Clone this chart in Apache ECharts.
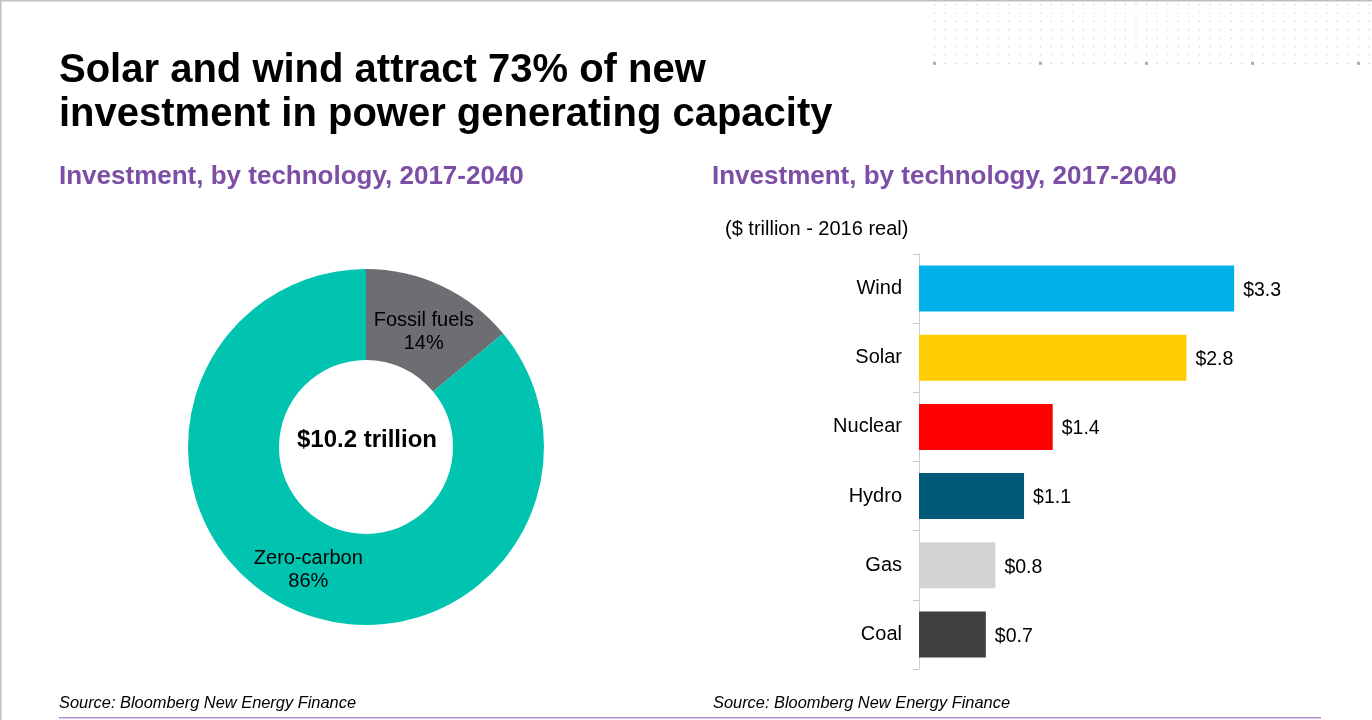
<!DOCTYPE html>
<html>
<head>
<meta charset="utf-8">
<script src="https://cdn.jsdelivr.net/npm/echarts@6/dist/echarts.min.js"></script>
<style>
html,body{margin:0;padding:0;background:#fff;}
#c{width:1372px;height:720px;}
</style>
</head>
<body>
<div id="c"></div>
<script>
// ---- data ----
const donutNames = ['Fossil fuels', 'Zero-carbon'];
const donutShares = [14, 86];
const donutColors = ['#6d6e71', '#00c4b0'];
const donutTotal = '$10.2 trillion';

const barCategories = ['Wind', 'Solar', 'Nuclear', 'Hydro', 'Gas', 'Coal'];
const barValues = [3.3, 2.8, 1.4, 1.1, 0.8, 0.7];
const barColors = ['#00b0e8', '#ffcc00', '#ff0000', '#005a78', '#d3d3d3', '#404040'];

const titleLines = ['Solar and wind attract 73% of new', 'investment in power generating capacity'];
const subtitle = 'Investment, by technology, 2017-2040';
const unitLabel = '($ trillion - 2016 real)';
const sourceText = 'Source: Bloomberg New Energy Finance';

const FONT = '"Liberation Sans", Arial, Helvetica, sans-serif';

// decorative dot pattern (top right)
const dots = [];
for (let r = 0; r < 8; r++) {
  for (let c = 0; c < 42; c++) {
    const big = (r === 7 && c % 10 === 0);
    dots.push({
      type: 'rect',
      shape: {x: 934 + c * 10.6 - (big ? 1 : 0), y: 4 + r * 8.4 - (big ? 1 : 0), width: big ? 3 : 1.2, height: big ? 3 : 1.2},
      style: {fill: big ? '#aaaaaa' : '#cccccc'},
      silent: true
    });
  }
}

const chart = echarts.init(document.getElementById('c'), null, {renderer: 'canvas'});
chart.setOption({
  backgroundColor: '#ffffff',
  animation: false,
  textStyle: {fontFamily: FONT},
  graphic: [
    {type: 'rect', shape: {x: 0, y: 0, width: 1372, height: 1.5}, style: {fill: '#c0c0c0'}, silent: true},
    {type: 'rect', shape: {x: 0, y: 0, width: 1.5, height: 720}, style: {fill: '#c0c0c0'}, silent: true},
    ...dots,
    {type: 'text', left: 59, top: 49, style: {text: titleLines.join('\n'), font: 'bold 40px ' + FONT, fill: '#000', lineHeight: 44}},
    {type: 'text', left: 59, top: 164, style: {text: subtitle, font: 'bold 26px ' + FONT, fill: '#7d4ea6'}},
    {type: 'text', left: 712, top: 164, style: {text: subtitle, font: 'bold 26px ' + FONT, fill: '#7d4ea6'}},
    {type: 'text', left: 725, top: 219, style: {text: unitLabel, font: '20px ' + FONT, fill: '#000'}},
    {type: 'text', x: 367, y: 440, style: {text: donutTotal, font: 'bold 24px ' + FONT, fill: '#000', align: 'center', verticalAlign: 'middle'}},
    {type: 'text', left: 59, top: 695, style: {text: sourceText, font: 'italic 16.4px ' + FONT, fill: '#000'}},
    {type: 'text', left: 713, top: 695, style: {text: sourceText, font: 'italic 16.4px ' + FONT, fill: '#000'}},
    {type: 'rect', shape: {x: 59, y: 717, width: 1262, height: 1.5}, style: {fill: '#b98fd6'}, silent: true}
  ],
  grid: {left: 919, top: 254, width: 382, height: 415, containLabel: false},
  xAxis: {
    type: 'value', min: 0, max: 4, show: false
  },
  yAxis: {
    type: 'category',
    inverse: true,
    data: barCategories,
    axisLine: {show: true, lineStyle: {color: '#d0d0d0', width: 1}},
    axisTick: {show: true, length: 6, lineStyle: {color: '#c8c8c8'}},
    axisLabel: {color: '#000', fontSize: 20, margin: 17, fontFamily: FONT, padding: [3, 0, 0, 0]},
    splitLine: {show: false}
  },
  series: [
    {
      type: 'pie',
      center: [366, 447],
      radius: [87, 178],
      startAngle: 90,
      clockwise: true,
      avoidLabelOverlap: false,
      silent: true,
      label: {
        show: true, position: 'inside', color: '#000', fontSize: 20, lineHeight: 23,
        fontFamily: FONT,
        formatter: p => p.name + '\n' + p.value + '%'
      },
      labelLine: {show: false},
      itemStyle: {borderWidth: 0},
      data: donutNames.map((n, i) => ({
        name: n, value: donutShares[i], itemStyle: {color: donutColors[i]},
        label: i === 0 ? {offset: [0, 8]} : {}
      }))
    },
    {
      type: 'bar',
      barWidth: 46,
      silent: true,
      data: barValues.map((v, i) => ({value: v, itemStyle: {color: barColors[i]}})),
      label: {
        show: true, position: 'right', distance: 9, color: '#000', fontSize: 19.5, fontFamily: FONT,
        offset: [0, 2],
        formatter: p => '$' + p.value.toFixed(1)
      }
    }
  ]
});
</script>
</body>
</html>
